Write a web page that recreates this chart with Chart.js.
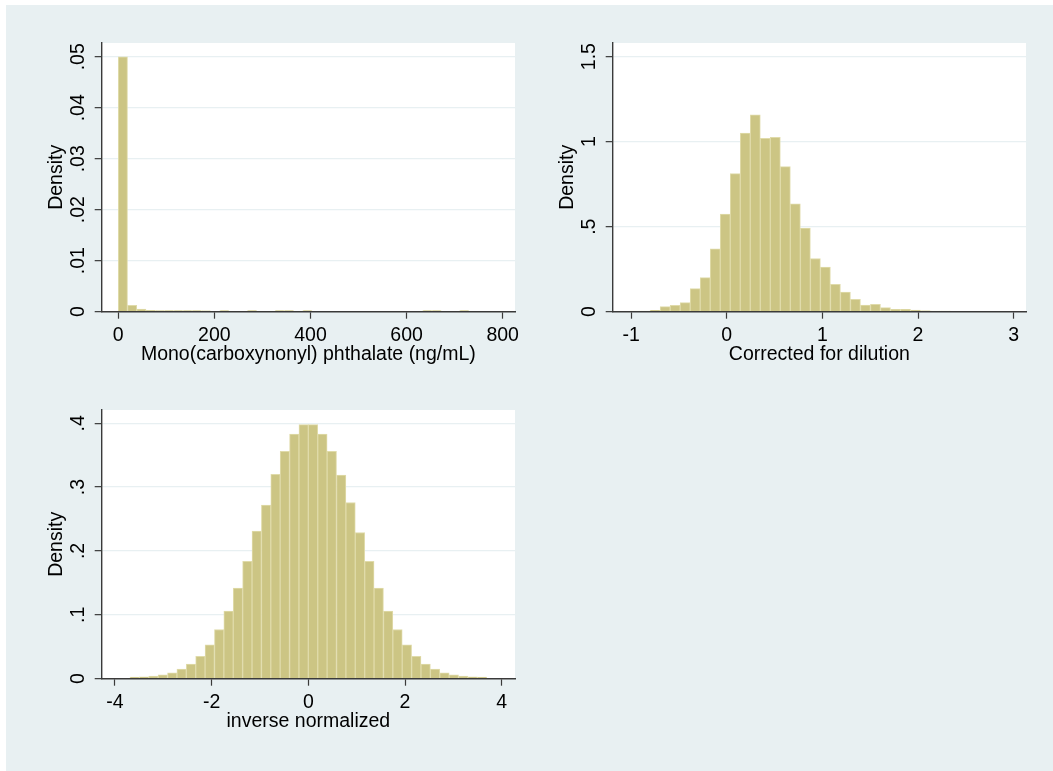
<!DOCTYPE html>
<html>
<head>
<meta charset="utf-8">
<title>Density histograms</title>
<script src="https://cdn.jsdelivr.net/npm/chart.js@4.4.1/dist/chart.umd.min.js"></script>
<style>
  html, body { margin: 0; padding: 0; background: #ffffff; }
  #graph { position: absolute; left: 6px; top: 5px; width: 1047px; height: 766px; background: #e8f0f2; }
  canvas { position: absolute; }
</style>
</head>
<body>
<div id="graph"></div>
<canvas id="rawPanel" width="495" height="340" style="left:30px;top:30px"></canvas>
<canvas id="dilutionPanel" width="495" height="340" style="left:541px;top:30px"></canvas>
<canvas id="inversePanel" width="495" height="340" style="left:30px;top:397px"></canvas>
<script>
// ---- Mono(carboxynonyl) phthalate, raw concentration (ng/mL): 38 bins ----
const rawBinStart = 0;
const rawBinWidth = 19.2;
const rawDensity = [
  0.0500, 0.00124, 0.0005, 0.00026, 0.00024, 0.00022, 0.0002, 0.0002, 0.0002, 0.00018,
  0, 0.00022, 0, 0, 0.00022, 0, 0, 0.00022, 0.00022, 0,
  0.00022, 0, 0, 0, 0, 0, 0, 0, 0, 0,
  0, 0, 0, 0.00022, 0.00022, 0, 0, 0.00022
];
const rawXTicks = [0, 200, 400, 600, 800];
const rawXLabels = ['0', '200', '400', '600', '800'];
const rawYTicks = [0, 0.01, 0.02, 0.03, 0.04, 0.05];
const rawYLabels = ['0', '.01', '.02', '.03', '.04', '.05'];

// ---- Corrected for dilution: 38 bins ----
const dilBinStart = -1.01;
const dilBinWidth = 0.1047;
const dilDensity = [
  0.004, 0.004, 0.008, 0.030, 0.037, 0.053, 0.136, 0.200, 0.370, 0.574,
  0.812, 1.050, 1.158, 1.020, 1.026, 0.853, 0.635, 0.491, 0.313, 0.263,
  0.161, 0.116, 0.073, 0.039, 0.043, 0.024, 0.014, 0.014, 0.010, 0.005,
  0.004, 0.004, 0.003, 0.003, 0.003, 0.002, 0.003, 0.002
];
const dilXTicks = [-1, 0, 1, 2, 3];
const dilXLabels = ['-1', '0', '1', '2', '3'];
const dilYTicks = [0, 0.5, 1, 1.5];
const dilYLabels = ['0', '.5', '1', '1.5'];

// ---- Inverse normalized: 38 bins ----
const invBinStart = -3.69;
const invBinWidth = 0.1942;
const invDensity = [
  0.0026, 0.003, 0.004, 0.006, 0.009, 0.015, 0.023, 0.035, 0.053, 0.077,
  0.106, 0.142, 0.184, 0.231, 0.272, 0.320, 0.356, 0.383, 0.398, 0.398,
  0.383, 0.356, 0.319, 0.276, 0.229, 0.184, 0.142, 0.106, 0.077, 0.053,
  0.035, 0.023, 0.015, 0.009, 0.006, 0.004, 0.003, 0.0026
];
const invXTicks = [-4, -2, 0, 2, 4];
const invXLabels = ['-4', '-2', '0', '2', '4'];
const invYTicks = [0, 0.1, 0.2, 0.3, 0.4];
const invYLabels = ['0', '.1', '.2', '.3', '.4'];

// ---- shared look ----
const FONT = { family: "'Liberation Sans', Arial, Helvetica, sans-serif", size: 19.5 };
const INK = '#000000';
const AXIS = '#3a3a3a';
const GRID = '#e8f0f2';
const PLOT_BG = '#ffffff';
const BAR_FILL = 'rgb(204,197,132)';
const BAR_EDGE = 'rgb(224,219,170)';

Chart.defaults.color = INK;
Chart.defaults.font.family = FONT.family;

// x position of each bar = middle of its bin
function binMids(start, width, n) {
  return Array.from({ length: n }, (_, i) => start + (i + 0.5) * width);
}

// white plot region behind grid and bars
const plotRegion = {
  id: 'plotRegion',
  beforeDraw(chart) {
    const a = chart.chartArea;
    const ctx = chart.ctx;
    ctx.save();
    ctx.fillStyle = PLOT_BG;
    ctx.fillRect(a.left, a.top, a.right - a.left, a.bottom - a.top);
    ctx.restore();
  }
};

// y tick labels written vertically, reading upward, centred on each tick
const verticalYLabels = {
  id: 'verticalYLabels',
  afterDraw(chart, args, opts) {
    const scale = chart.scales.y;
    const ctx = chart.ctx;
    ctx.save();
    ctx.font = FONT.size + 'px ' + FONT.family;
    ctx.fillStyle = INK;
    ctx.textAlign = 'center';
    ctx.textBaseline = 'middle';
    scale.ticks.forEach((t, i) => {
      ctx.save();
      ctx.translate(chart.chartArea.left - opts.offset, scale.getPixelForValue(t.value));
      ctx.rotate(-Math.PI / 2);
      ctx.fillText(opts.labels[i], 0, 0);
      ctx.restore();
    });
    ctx.restore();
  }
};

function histogram(id, p) {
  const mids = binMids(p.start, p.width, p.density.length);
  return new Chart(document.getElementById(id), {
    type: 'bar',
    data: {
      datasets: [{
        data: mids.map((x, i) => ({ x: x, y: p.density[i] })),
        backgroundColor: BAR_FILL,
        borderColor: BAR_EDGE,
        borderWidth: 1,
        borderSkipped: 'start',
        barPercentage: 1,
        categoryPercentage: 1
      }]
    },
    options: {
      responsive: false,
      animation: false,
      devicePixelRatio: 1,
      layout: { autoPadding: false, padding: { left: 15, top: 13, right: 10, bottom: 3.3 } },
      plugins: {
        legend: { display: false },
        tooltip: { enabled: false },
        verticalYLabels: { labels: p.yLabels, offset: 23.4 }
      },
      scales: {
        x: {
          type: 'linear',
          offset: false,
          min: p.xMin,
          max: p.xMax,
          afterBuildTicks: s => { s.ticks = p.xTicks.map(v => ({ value: v })); },
          afterFit: s => { s.height = 55; },
          grid: {
            display: true, drawOnChartArea: false, drawTicks: true, offset: false,
            tickLength: 7, tickColor: AXIS, tickWidth: 1.2
          },
          border: { display: true, color: AXIS, width: 1.4, z: 1 },
          ticks: {
            color: INK, font: FONT, padding: 5.1,
            maxRotation: 0, minRotation: 0, autoSkip: false,
            callback: (v, i) => p.xLabels[i]
          },
          title: { display: true, text: p.xTitle, color: INK, font: FONT, padding: 0 }
        },
        y: {
          type: 'linear',
          min: 0,
          max: p.yMax,
          afterBuildTicks: s => { s.ticks = p.yTicks.map(v => ({ value: v })); },
          afterFit: s => { s.width = 56.7; },
          grid: {
            color: c => (c.tick && c.tick.value === 0) ? 'rgba(0,0,0,0)' : GRID,
            lineWidth: 1.3,
            drawTicks: true, tickLength: 7, tickColor: AXIS, tickWidth: 1.2
          },
          border: { display: true, color: AXIS, width: 1.4, z: 1 },
          ticks: { display: false },
          title: { display: true, text: 'Density', color: INK, font: FONT, padding: 0 }
        }
      }
    },
    plugins: [plotRegion, verticalYLabels]
  });
}

histogram('rawPanel', {
  start: rawBinStart, width: rawBinWidth, density: rawDensity,
  xMin: -34.5, xMax: 825.6, yMax: 0.0527,
  xTicks: rawXTicks, xLabels: rawXLabels, yTicks: rawYTicks, yLabels: rawYLabels,
  xTitle: 'Mono(carboxynonyl) phthalate (ng/mL)'
});

histogram('dilutionPanel', {
  start: dilBinStart, width: dilBinWidth, density: dilDensity,
  xMin: -1.192, xMax: 3.129, yMax: 1.58,
  xTicks: dilXTicks, xLabels: dilXLabels, yTicks: dilYTicks, yLabels: dilYLabels,
  xTitle: 'Corrected for dilution'
});

histogram('inversePanel', {
  start: invBinStart, width: invBinWidth, density: invDensity,
  xMin: -4.275, xMax: 4.275, yMax: 0.4208,
  xTicks: invXTicks, xLabels: invXLabels, yTicks: invYTicks, yLabels: invYLabels,
  xTitle: 'inverse normalized'
});
</script>
</body>
</html>
